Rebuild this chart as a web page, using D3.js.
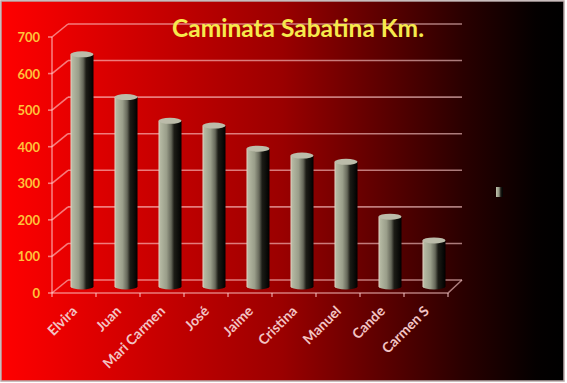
<!DOCTYPE html>
<html>
<head>
<meta charset="utf-8">
<script src="https://cdn.jsdelivr.net/npm/d3@7"></script>
<style>
  body { margin: 0; background: #fff; }
  svg { display: block; }
</style>
</head>
<body>
<div id="chart"></div>
<script>
/* DATA */
const names = ['Elvira', 'Juan', 'Mari Carmen', 'José', 'Jaime', 'Cristina', 'Manuel', 'Cande', 'Carmen S']
const km = [635, 518, 453, 440, 377, 358, 341, 191, 126]
const yTicks = [0, 100, 200, 300, 400, 500, 600, 700]
const title = 'Caminata Sabatina Km.'

/* CONSTANTS */
const width = 567
const height = 383
const depthX = 16   // 3d depth offset
const depthY = -13
const barW = 23
const gridColor = 'rgba(255,205,205,0.6)'

const data = names.map((n, i) => ({ name: n, value: km[i] }))

const svg = d3.select('#chart').append('svg')
  .attr('width', width)
  .attr('height', height)

const defs = svg.append('defs')

const bg = defs.append('linearGradient').attr('id', 'bg')
  .attr('x1', 0).attr('x2', 1).attr('y1', 0).attr('y2', 0)
bg.selectAll('stop')
  .data([[0, '#ff0000'], [0.06, '#f40000'], [0.5, '#9a0000'], [0.82, '#2a0000'], [0.95, '#040000'], [1, '#000']])
  .join('stop')
  .attr('offset', d => d[0])
  .attr('stop-color', d => d[1])

const cyl = defs.append('linearGradient').attr('id', 'cyl')
  .attr('x1', 0).attr('x2', 1).attr('y1', 0).attr('y2', 0)
cyl.selectAll('stop')
  .data([[0, '#e6d4c4'], [0.08, '#b4b8a2'], [0.35, '#9a9e8a'], [0.55, '#66685a'], [0.68, '#1c1c16'], [1, '#000']])
  .join('stop')
  .attr('offset', d => d[0])
  .attr('stop-color', d => d[1])

// chart area + border
svg.append('rect')
  .attr('x', 1).attr('y', 1)
  .attr('width', 563).attr('height', 380)
  .attr('fill', 'url(#bg)')
  .attr('stroke', '#b8a8a8')
  .attr('stroke-width', 1.5)

/* SCALES */
const xScale = d3.scaleBand()
  .domain(names)
  .range([52, 448])

const yScale = d3.scaleLinear()
  .domain([0, 700])
  .range([293, 37])

/* WALLS */
const grid = svg.append('g')
  .attr('stroke', gridColor)
  .attr('stroke-width', 1.6)
  .attr('fill', 'none')

// back wall gridlines
grid.selectAll('.back')
  .data(yTicks)
  .join('line')
  .attr('x1', 52 + depthX)
  .attr('x2', 448 + depthX - 2)
  .attr('y1', d => yScale(d) + depthY)
  .attr('y2', d => yScale(d) + depthY)

// side wall diagonals
grid.selectAll('.side')
  .data(yTicks)
  .join('line')
  .attr('x1', 52)
  .attr('x2', 52 + depthX)
  .attr('y1', d => yScale(d))
  .attr('y2', d => yScale(d) + depthY)

// front axis line + floor
grid.append('line')
  .attr('x1', 52).attr('x2', 52)
  .attr('y1', yScale(700)).attr('y2', yScale(0))
grid.append('path')
  .attr('d', `M52,${yScale(0)}L${448},${yScale(0)}L${448 + depthX - 2},${yScale(0) + depthY}`)

// y ticks
grid.selectAll('.ytick')
  .data(yTicks)
  .join('line')
  .attr('x1', 48).attr('x2', 52)
  .attr('y1', d => yScale(d)).attr('y2', d => yScale(d))

// x ticks at the category boundaries
grid.selectAll('.xtick')
  .data(names.concat(['end']))
  .join('line')
  .attr('x1', (d, i) => i < names.length ? xScale(d) : 448)
  .attr('x2', (d, i) => i < names.length ? xScale(d) : 448)
  .attr('y1', yScale(0)).attr('y2', yScale(0) + 4)

/* BARS (cylinders) */
const cx = d => xScale(d.name) + xScale.bandwidth() / 2 + depthX / 2
const bars = svg.append('g')

bars.selectAll('rect')
  .data(data)
  .join('rect')
  .attr('x', d => cx(d) - barW / 2)
  .attr('y', d => yScale(d.value) + depthY / 2)
  .attr('width', barW)
  .attr('height', d => yScale(0) - yScale(d.value))
  .attr('fill', 'url(#cyl)')

bars.selectAll('ellipse.bot')
  .data(data)
  .join('ellipse')
  .attr('class', 'bot')
  .attr('cx', cx)
  .attr('cy', yScale(0) + depthY / 2)
  .attr('rx', barW / 2)
  .attr('ry', 3)
  .attr('fill', 'url(#cyl)')

bars.selectAll('ellipse.top')
  .data(data)
  .join('ellipse')
  .attr('class', 'top')
  .attr('cx', cx)
  .attr('cy', d => yScale(d.value) + depthY / 2)
  .attr('rx', barW / 2)
  .attr('ry', 3)
  .attr('fill', '#bcbcaa')

/* TEXT */
svg.append('g')
  .attr('font-family', 'Lato, sans-serif')
  .attr('font-weight', 'bold')
  .attr('font-size', 13)
  .attr('fill', '#ffc23a')
  .attr('text-anchor', 'end')
  .selectAll('text')
  .data(yTicks)
  .join('text')
  .attr('x', 40)
  .attr('y', d => yScale(d) + 5)
  .text(d => d)

svg.append('g')
  .attr('font-family', 'Lato, sans-serif')
  .attr('font-weight', 'bold')
  .attr('font-size', 14)
  .attr('fill', '#f2c4c4')
  .attr('text-anchor', 'end')
  .selectAll('text')
  .data(names)
  .join('text')
  .attr('transform', d => `translate(${xScale(d) + xScale.bandwidth() / 2 + 4},312) rotate(-45)`)
  .text(d => d)

svg.append('text')
  .attr('x', 298)
  .attr('y', 37)
  .attr('text-anchor', 'middle')
  .attr('font-family', 'Lato, sans-serif')
  .attr('font-weight', 'bold')
  .attr('font-size', 24.5)
  .attr('fill', '#f6ea4c')
  .text(title)

// legend marker (series has no visible name)
svg.append('rect')
  .attr('x', 496).attr('y', 187)
  .attr('width', 7).attr('height', 10)
  .attr('fill', 'url(#cyl)')
</script>
</body>
</html>
